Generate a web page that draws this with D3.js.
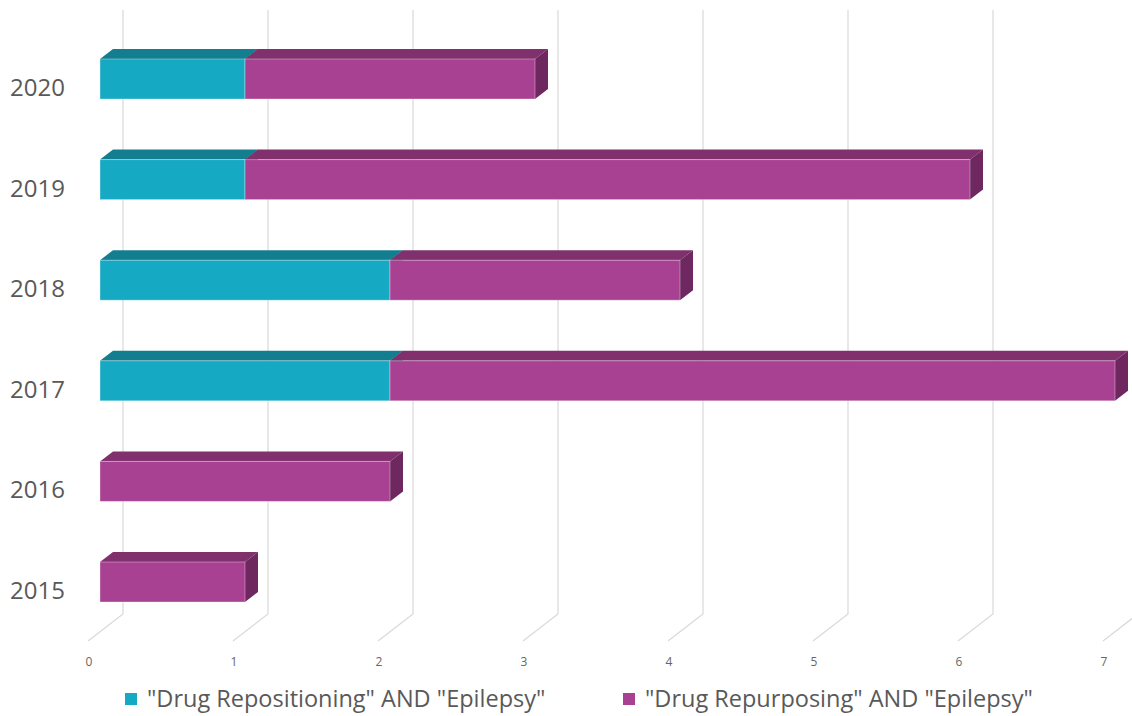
<!DOCTYPE html>
<html>
<head>
<meta charset="utf-8">
<script src="https://cdn.jsdelivr.net/npm/d3@7"></script>
<style>
  html, body { margin: 0; padding: 0; background: #fff; }
  svg { display: block; font-family: "Open Sans", "Noto Sans", sans-serif; }
</style>
</head>
<body>
<svg id="chart" width="1132" height="716"></svg>
<script>
// ---- data ----
const years = ["2020", "2019", "2018", "2017", "2016", "2015"];
const seriesNames = ['"Drug Repositioning" AND "Epilepsy"', '"Drug Repurposing" AND "Epilepsy"'];
const repositioning = [1, 1, 2, 2, 0, 0];
const repurposing = [2, 5, 2, 5, 2, 1];
const xTicks = [0, 1, 2, 3, 4, 5, 6, 7];

const colors = [
  { front: "#16A9C3", top: "#137E8F", side: "#0F6D7B" },
  { front: "#A84192", top: "#7F306D", side: "#6E285F" }
];

const svg = d3.select("#chart");
const x = d3.scaleLinear().domain([0, 7]).range([100, 1115]);
const y = d3.scalePoint().domain(years).range([79, 582]);
const barH = 40;
const ddx = 13, ddy = -10;          // bar depth
const gdx = 23, gBackY = 614, gFrontY = 641, gFrontDx = -12, gTop = 10;

// gridlines (3D walls/floor)
const grid = svg.append("g");
xTicks.forEach(v => {
  const bx = x(v) + gdx, fx = x(v) + gFrontDx;
  grid.append("path")
    .attr("d", `M${bx},${gTop} L${bx},${gBackY} L${fx},${gFrontY}`)
    .attr("fill", "none").attr("stroke", "#d9d9d9").attr("stroke-width", 1.2);
});

// tick labels
svg.append("g").selectAll("text").data(xTicks).join("text")
  .attr("x", d => x(d) + gFrontDx + 1)
  .attr("y", 666)
  .attr("text-anchor", "middle")
  .attr("font-size", 12)
  .attr("fill", "#666666")
  .text(d => d);

// stacked data
const rows = years.map((yr, i) => ({ year: yr, vals: [repositioning[i], repurposing[i]] }));

const bars = svg.append("g");
rows.slice().reverse().forEach(r => {
  let start = 0;
  r.vals.forEach((v, si) => {
    if (v <= 0) return;
    const x0 = x(start), x1 = x(start + v);
    const y0 = y(r.year) - barH / 2, y1 = y0 + barH;
    const c = colors[si];
    const g = bars.append("g");
    // top face
    g.append("path")
      .attr("d", `M${x0},${y0} L${x0 + ddx},${y0 + ddy} L${x1 + ddx},${y0 + ddy} L${x1},${y0} Z`)
      .attr("fill", c.top);
    // side face
    g.append("path")
      .attr("d", `M${x1},${y0} L${x1 + ddx},${y0 + ddy} L${x1 + ddx},${y1 + ddy} L${x1},${y1} Z`)
      .attr("fill", c.side);
    // front face
    g.append("rect")
      .attr("x", x0).attr("y", y0)
      .attr("width", x1 - x0).attr("height", barH)
      .attr("fill", c.front)
      .attr("stroke", "rgba(255,255,255,0.35)").attr("stroke-width", 1);
    start += v;
  });
});

// year labels
svg.append("g").selectAll("text").data(years).join("text")
  .attr("x", 10)
  .attr("y", d => y(d) + 17)
  .attr("font-size", 24)
  .attr("fill", "#595959")
  .text(d => d);

// legend
const legend = svg.append("g");
const legX = [125, 623];
seriesNames.forEach((name, i) => {
  legend.append("rect")
    .attr("x", legX[i]).attr("y", 693)
    .attr("width", 12).attr("height", 12)
    .attr("fill", colors[i].front);
  legend.append("text")
    .attr("x", legX[i] + 22).attr("y", 707)
    .attr("font-size", 23.5)
    .attr("fill", "#595959")
    .text(name);
});
</script>
</body>
</html>
